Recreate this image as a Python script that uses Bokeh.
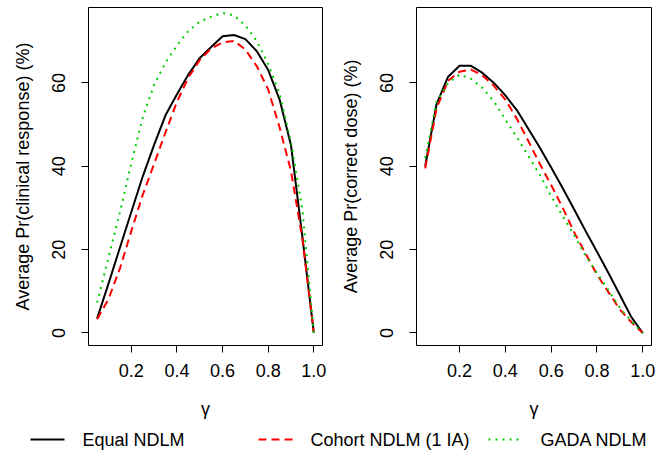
from bokeh.plotting import figure
from bokeh.layouts import column, row
from bokeh.models import Range1d, FixedTicker
from bokeh.core.properties import value
from bokeh.embed import file_html
from bokeh.resources import INLINE

gamma = [0.05, 0.10, 0.15, 0.20, 0.25, 0.30, 0.35, 0.40, 0.45, 0.50,
         0.55, 0.60, 0.65, 0.70, 0.75, 0.80, 0.85, 0.90, 0.95, 1.00]

resp_equal = [3.5, 11.9, 20.5, 29.1, 37.6, 45.2, 52.3, 57.3, 62.0, 66.0,
              68.6, 71.2, 71.5, 70.5, 67.6, 63.1, 56.0, 45.0, 23.0, 0.0]
resp_cohort = [3.3, 8.2, 15.5, 24.5, 33.2, 40.6, 48.2, 55.5, 61.3, 65.5,
               68.3, 69.7, 70.1, 68.0, 64.0, 58.4, 49.3, 38.8, 22.5, 0.0]
resp_gada = [7.3, 18.2, 29.0, 40.8, 51.8, 59.6, 64.9, 69.0, 72.5, 74.7,
             75.9, 76.8, 76.2, 73.8, 70.0, 64.5, 57.4, 45.8, 29.5, 0.0]

dose_equal = [40.0, 55.0, 61.5, 64.1, 64.1, 62.4, 60.0, 57.0, 53.5, 49.0,
              44.5, 39.7, 34.8, 29.7, 24.5, 19.5, 14.4, 9.1, 3.8, 0.0]
dose_cohort = [39.5, 54.0, 60.5, 62.7, 63.2, 61.8, 59.3, 56.0, 51.4, 46.1,
               40.6, 35.5, 30.1, 24.2, 19.1, 14.0, 9.8, 5.6, 2.6, 0.0]
dose_gada = [42.0, 55.5, 60.0, 62.0, 61.0, 58.8, 55.6, 51.2, 47.0, 42.5,
             38.0, 32.8, 28.1, 23.5, 18.6, 14.4, 10.3, 6.0, 2.8, 0.0]

x_ticks = [0.2, 0.4, 0.6, 0.8, 1.0]
x_tick_labels = ["0.2", "0.4", "0.6", "0.8", "1.0"]
y_ticks = [0, 20, 40, 60]
y_tick_labels = ["0", "20", "40", "60"]

series_names = ["Equal NDLM", "Cohort NDLM (1 IA)", "GADA NDLM"]
colors = ["#000000", "#FF0000", "#00CD00"]
dashes = ["solid", "8 5", "2 5"]
widths = [2, 2, 2]

FONT = "Liberation Sans"
FS = "18px"


def make_panel(ylabel, ys, width, left_border, right_border):
    p = figure(width=width, height=425, output_backend="svg", toolbar_location=None,
               x_range=Range1d(0.012, 1.038), y_range=Range1d(-3.0, 78.1),
               min_border_left=left_border, min_border_right=right_border,
               min_border_top=7, min_border_bottom=80)
    p.background_fill_color = "white"
    p.border_fill_color = "white"
    p.outline_line_color = "black"
    p.outline_line_width = 1
    p.grid.visible = False
    for yv, c, d, w in zip(ys, colors, dashes, widths):
        p.line(gamma, yv, line_color=c, line_dash=d, line_width=w)
    xa = p.xaxis[0]
    xa.ticker = FixedTicker(ticks=x_ticks)
    xa.major_label_overrides = dict(zip(x_ticks, x_tick_labels))
    ya = p.yaxis[0]
    ya.ticker = FixedTicker(ticks=y_ticks)
    ya.major_label_overrides = dict(zip(y_ticks, y_tick_labels))
    ya.major_label_orientation = "vertical"
    for ax in (xa, ya):
        ax.axis_line_color = None
        ax.major_tick_out = 7
        ax.major_tick_in = 0
        ax.minor_tick_line_color = None
        ax.major_tick_line_color = "black"
        ax.major_label_text_font = FONT
        ax.major_label_text_font_size = FS
        ax.major_label_text_color = "black"
        ax.axis_label_text_font = FONT
        ax.axis_label_text_font_size = FS
        ax.axis_label_text_font_style = "normal"
        ax.axis_label_text_color = "black"
    xa.axis_label = "γ"
    xa.major_label_standoff = 11
    xa.axis_label_standoff = 19
    ya.axis_label = ylabel
    ya.major_label_standoff = 16
    ya.axis_label_standoff = 17
    return p


p1 = make_panel("Average Pr(clinical response) (%)",
                [resp_equal, resp_cohort, resp_gada], 330, 88, 8)
p2 = make_panel("Average Pr(correct dose) (%)",
                [dose_equal, dose_cohort, dose_gada], 326, 86, 5)

# legend strip
leg = figure(width=656, height=27, output_backend="svg", toolbar_location=None,
             x_range=Range1d(0, 656), y_range=Range1d(27, 0),
             min_border=0)
leg.axis.visible = False
leg.grid.visible = False
leg.outline_line_color = None
leg.background_fill_color = "white"
leg.border_fill_color = "white"

sample_x0 = [30, 258, 488]
sample_len = 34
label_x = [82, 310, 540]
legend_y = 14
for name, c, d, w, x0, lx in zip(series_names, colors, dashes, widths, sample_x0, label_x):
    leg.line([x0, x0 + sample_len], [legend_y, legend_y], line_color=c, line_dash=d, line_width=w)
    leg.text(x=[lx], y=[legend_y], text=[name], text_font=value(FONT), text_font_size=FS,
             text_baseline="middle", text_align="left", text_color="black")

layout = column(row(p1, p2, spacing=0), leg, spacing=0)

open("out.html", "w").write(file_html(layout, INLINE))
